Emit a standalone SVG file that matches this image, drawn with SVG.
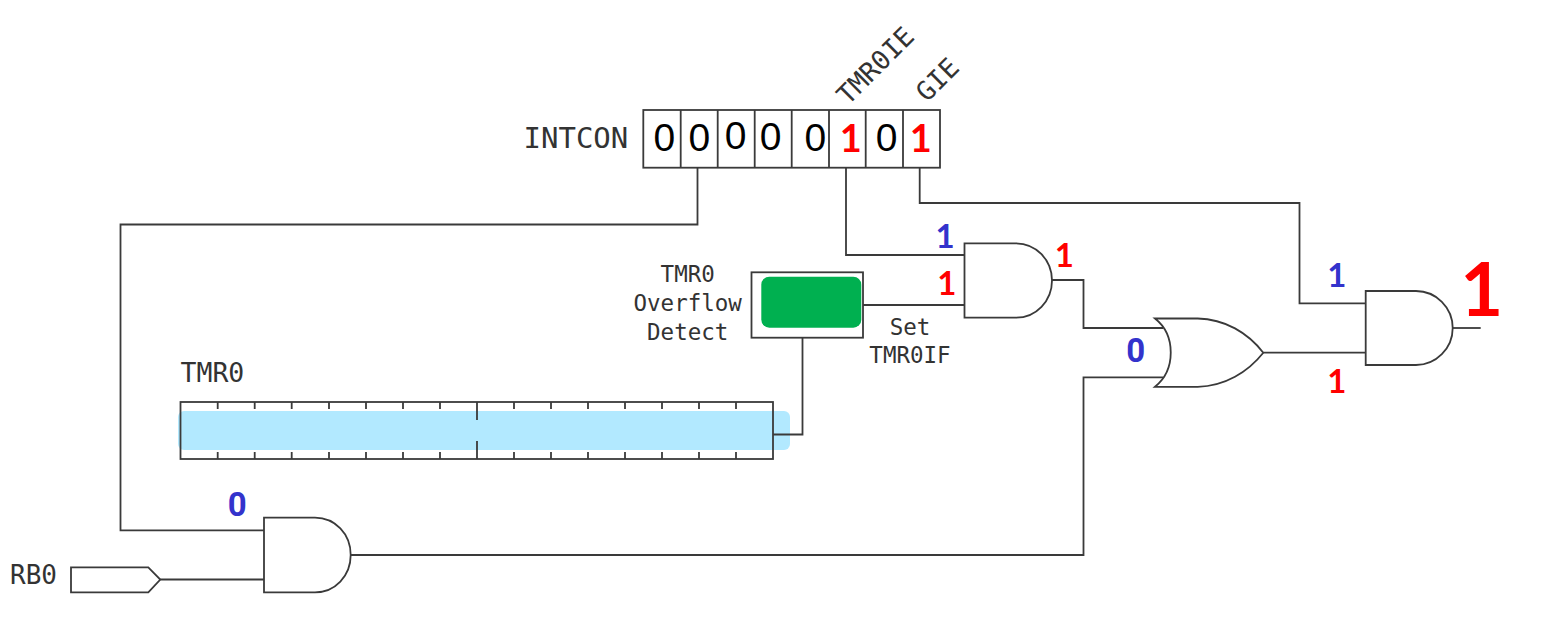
<svg xmlns="http://www.w3.org/2000/svg" width="1552" height="625" viewBox="0 0 1552 625">
<style>
.l{fill:none;stroke:#3a3a3a;stroke-width:1.8;stroke-linejoin:miter}
.g{fill:#fff;stroke:#3a3a3a;stroke-width:1.8}
.m{font-family:"DejaVu Sans Mono",monospace;fill:#333}
.s{font-size:22.5px;text-anchor:middle}
.d{font-family:"Liberation Sans",Arial,sans-serif;font-size:39px;fill:#000;text-anchor:middle}
.b{font-family:Lato,"Open Sans",sans-serif;font-weight:700;font-size:33px;text-anchor:middle}
.z{font-family:Roboto,"Liberation Sans",sans-serif;font-weight:700;font-size:33px;text-anchor:middle}
.r{fill:#f00}.u{fill:#3333cc}
</style>
<rect width="1552" height="625" fill="#fff"/>
<g id="connectors">
<path class="l" d="M697.5 167.7V224.5H120.5V530.3H264"/>
<path class="l" d="M846 167.7V255H964.5"/>
<path class="l" d="M919.7 167.7V203H1299.5V303.3H1365.7"/>
<path class="l" d="M863 305H964.5"/>
<path class="l" d="M1052 280H1083.5V328H1163"/>
<path class="l" d="M350.7 555H1083.5V377.3H1163"/>
<path class="l" d="M1263.3 352.7H1365.7"/>
<path class="l" d="M1452.7 328H1480.7"/>
<path class="l" d="M160.3 579.5H264"/>
</g>
<g id="intcon">
<rect class="g" x="643.3" y="110" width="296.7" height="57.7"/>
<path class="l" d="M680.7 110V167.7M717.7 110V167.7M754.7 110V167.7M791.7 110V167.7M829 110V167.7M865.7 110V167.7M903 110V167.7"/>
<text class="m" x="523.5" y="148.3" font-size="29">INTCON</text>
<text class="m" font-size="26.5" transform="translate(848 106) rotate(-45)">TMR0IE</text>
<text class="m" font-size="26.5" transform="translate(927 103) rotate(-45)">GIE</text>
<text class="d" x="664.3" y="151">0</text>
<text class="d" x="699.3" y="151">0</text>
<text class="d" x="735.7" y="149.3">0</text>
<text class="d" x="770.7" y="150">0</text>
<text class="d" x="815.3" y="151">0</text>
<text class="b r" x="850.7" y="151.7" style="font-size:38px">1</text>
<text class="d" x="886.7" y="151">0</text>
<text class="b r" x="920.7" y="151.7" style="font-size:38px">1</text>
</g>
<g id="tmr0">
<rect x="178" y="411" width="612" height="39" rx="6" fill="#b2e9ff"/>
<rect class="l" x="180.5" y="402" width="592.5" height="57"/>
<path class="l" d="M217.7 402v7M254.7 402v7M291.7 402v7M329 402v7M366 402v7M403 402v7M440 402v7M514 402v7M551 402v7M588 402v7M625 402v7M662 402v7M699 402v7M736 402v7M217.7 452v7M254.7 452v7M291.7 452v7M329 452v7M366 452v7M403 452v7M440 452v7M514 452v7M551 452v7M588 452v7M625 452v7M662 452v7M699 452v7M736 452v7M477 402v18M477 441v18"/>
<path class="l" d="M773 434.5H802.5V337.7"/>
<text class="m" x="180.5" y="381.7" font-size="26.5">TMR0</text>
</g>
<g id="overflow-detect">
<rect class="g" x="751.5" y="272.3" width="111.5" height="65.4"/>
<rect x="761.3" y="276.7" width="100" height="51" rx="8" fill="#00b050"/>
<text class="m s" x="687.7" y="281.7">TMR0</text>
<text class="m s" x="687.7" y="310.7">Overflow</text>
<text class="m s" x="687.7" y="340">Detect</text>
<text class="m s" x="910" y="335">Set</text>
<text class="m s" x="910" y="363.3">TMR0IF</text>
</g>
<g id="and-top">
<path class="g" d="M964.5 243.3H1016C1036 243.3 1052 260 1052 280.5C1052 301 1036 317.7 1016 317.7H964.5Z"/>
<text class="b u" x="945" y="247.7">1</text>
<text class="b r" x="946.7" y="295">1</text>
<text class="b r" x="1064.3" y="267.3">1</text>
</g>
<g id="or">
<path class="g" d="M1155 318.5C1176 335 1176 370 1155 386.8H1197.7C1225 386 1248 372 1263.3 352.7C1248 333 1225 319 1197.7 318.5Z"/>
<text class="z u" x="1135.7" y="361.7">0</text>
</g>
<g id="and-right">
<path class="g" d="M1365.7 291H1416C1436 291 1452.7 307.5 1452.7 328C1452.7 348.5 1436 365 1416 365H1365.7Z"/>
<text class="b u" x="1336.7" y="286.7">1</text>
<text class="b r" x="1336.7" y="392.7">1</text>
<text class="b r" x="1481.7" y="315.7" style="font-size:74px">1</text>
</g>
<g id="and-bottom">
<path class="g" d="M264 517.7H315C335 517.7 350.7 534 350.7 555C350.7 576 335 592.3 315 592.3H264Z"/>
<text class="z u" x="237.3" y="515.7">0</text>
</g>
<g id="rb0">
<path class="g" d="M71 567.3H148.3L160.3 579.5L148.3 592.3H71Z"/>
<text class="m" x="10" y="584" font-size="26">RB0</text>
</g>
</svg>
